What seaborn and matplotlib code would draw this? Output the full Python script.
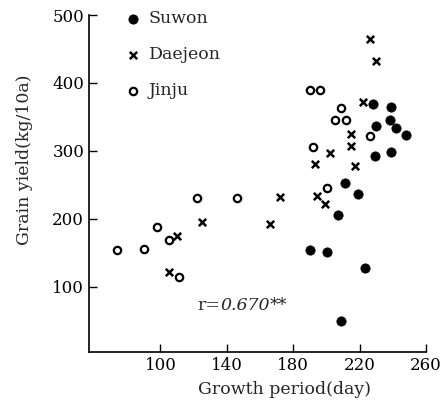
import matplotlib
matplotlib.use("Agg")
import matplotlib.pyplot as plt
import seaborn as sns
import pandas as pd

# data (growth period in days, grain yield in kg/10a)
suwon_day = [190, 200, 207, 211, 219, 223, 209, 228, 239, 238, 230, 242, 248, 229, 239]
suwon_yield = [154, 151, 205, 252, 236, 128, 50, 369, 364, 345, 336, 334, 324, 293, 298]

daejeon_day = [226, 230, 222, 215, 215, 202, 193, 217, 194, 199, 172, 166, 125, 110, 105]
daejeon_yield = [464, 433, 372, 325, 307, 297, 280, 277, 234, 222, 232, 192, 195, 174, 122]

jinju_day = [74, 90, 98, 105, 111, 122, 146, 190, 196, 209, 205, 212, 226, 192, 200]
jinju_yield = [154, 156, 188, 169, 115, 230, 230, 390, 390, 363, 345, 346, 322, 306, 246]

x_ticks = [100, 140, 180, 220, 260]
y_ticks = [100, 200, 300, 400, 500]
r_value = "0.670"

sns.set_theme(style="ticks")
plt.rcParams["font.family"] = ["DejaVu Serif"]

fig = plt.figure(figsize=(4.43, 4.17), dpi=100)
ax = fig.add_axes([0.201, 0.156, 0.761, 0.808])

suwon = pd.DataFrame({"day": suwon_day, "yield": suwon_yield})
daejeon = pd.DataFrame({"day": daejeon_day, "yield": daejeon_yield})
jinju = pd.DataFrame({"day": jinju_day, "yield": jinju_yield})

sns.scatterplot(data=suwon, x="day", y="yield", ax=ax, marker="o", s=45,
                color="black", edgecolor="black", linewidth=0.5, label="Suwon")
sns.scatterplot(data=daejeon, x="day", y="yield", ax=ax, marker="x", s=28,
                color="black", linewidth=1.8, label="Daejeon")
sns.scatterplot(data=jinju, x="day", y="yield", ax=ax, marker="o", s=28,
                facecolor="white", edgecolor="black", linewidth=1.6, label="Jinju")

ax.set_xlim(57, 260)
ax.set_ylim(4, 500)
ax.set_xticks(x_ticks)
ax.set_yticks(y_ticks)
ax.tick_params(direction="in", length=6, width=1, labelsize=12, colors="black")
for side in ["top", "right"]:
    ax.spines[side].set_visible(False)
for side in ["left", "bottom"]:
    ax.spines[side].set_color("black")
    ax.spines[side].set_linewidth(1.2)

ax.set_xlabel("Growth period(day)", fontsize=12.5)
ax.set_ylabel("Grain yield(kg/10a)", fontsize=12.5)
ax.xaxis.set_label_coords(0.58, -0.085)
ax.yaxis.set_label_coords(-0.165, 0.57)

# correlation note: "r=" upright, value italic, stars upright
t1 = ax.text(122, 73, "r=", fontsize=12.5, va="center", ha="left")
t2 = ax.annotate(r_value, xy=(1, 0), xycoords=t1, va="bottom", ha="left",
                 fontsize=12.5, style="italic")
ax.annotate("**", xy=(1, 0), xycoords=t2, va="bottom", ha="left", fontsize=12.5)

leg = ax.legend(loc="upper left", bbox_to_anchor=(0.085, 1.035), frameon=False,
                fontsize=12.5, handletextpad=0.4, labelspacing=1.1,
                handlelength=1.0, borderaxespad=0)

fig.savefig("out.png", dpi=100)
